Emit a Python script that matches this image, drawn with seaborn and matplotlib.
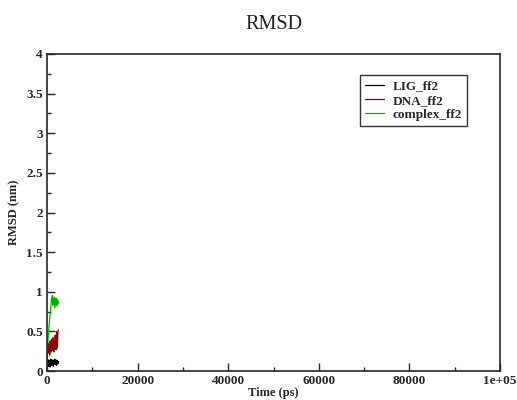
import numpy as np
import pandas as pd
import matplotlib
matplotlib.use("Agg")
import matplotlib.pyplot as plt
import seaborn as sns
from matplotlib.ticker import MultipleLocator

time_ps = [0, 100, 200, 300, 400, 500, 600, 700, 800, 900, 1000, 1100, 1200, 1300,
           1400, 1500, 1600, 1700, 1800, 1900, 2000, 2100, 2200, 2300, 2400, 2500]
lig = [0.0, 0.08, 0.12, 0.06, 0.14, 0.09, 0.13, 0.05, 0.11, 0.15, 0.07, 0.12, 0.10,
       0.14, 0.06, 0.13, 0.09, 0.15, 0.08, 0.12, 0.14, 0.07, 0.11, 0.13, 0.09, 0.12]
dna = [0.0, 0.28, 0.22, 0.35, 0.25, 0.30, 0.20, 0.38, 0.27, 0.24, 0.40, 0.30, 0.26,
       0.42, 0.32, 0.24, 0.36, 0.28, 0.45, 0.30, 0.27, 0.50, 0.33, 0.29, 0.48, 0.52]
cplx = [0.0, 0.30, 0.38, 0.45, 0.52, 0.60, 0.66, 0.72, 0.78, 0.85, 0.92, 0.88, 0.95,
        0.83, 0.90, 0.86, 0.93, 0.80, 0.89, 0.84, 0.92, 0.87, 0.82, 0.90, 0.85, 0.88]
series_names = ["LIG_ff2", "DNA_ff2", "complex_ff2"]
series_colors = ["#000000", "#8b0000", "#00b000"]
x_ticks = [0, 20000, 40000, 60000, 80000, 100000]
x_tick_labels = ["0", "20000", "40000", "60000", "80000", "1e+05"]
y_ticks = [0, 0.5, 1, 1.5, 2, 2.5, 3, 3.5, 4]
y_tick_labels = ["0", "0.5", "1", "1.5", "2", "2.5", "3", "3.5", "4"]

df = pd.DataFrame({"Time": time_ps * 3,
                   "RMSD": lig + dna + cplx,
                   "series": sum([[n] * len(time_ps) for n in series_names], [])})

sns.set_style("ticks")
plt.rcParams["font.family"] = ["Liberation Serif", "DejaVu Serif"]

fig = plt.figure(figsize=(5.17, 4.0), dpi=100)
ax = fig.add_axes([47 / 517, 29 / 400, 453 / 517, 317 / 400])
sns.lineplot(data=df, x="Time", y="RMSD", hue="series", palette=series_colors,
             hue_order=series_names, ax=ax, linewidth=0.9, estimator=None)

ax.set_xlim(0, 100000)
ax.set_ylim(0, 4)
ax.xaxis.set_minor_locator(MultipleLocator(10000))
ax.yaxis.set_minor_locator(MultipleLocator(0.25))
ax.set_xticks(x_ticks)
ax.set_xticklabels(x_tick_labels)
ax.set_yticks(y_ticks)
ax.set_yticklabels(y_tick_labels)
ax.tick_params(which="major", direction="in", length=6, width=1, labelsize=9.5,
               top=False, right=False, pad=3)
ax.tick_params(which="minor", direction="in", length=3, width=1)
for lbl in ax.get_xticklabels() + ax.get_yticklabels():
    lbl.set_fontweight("bold")
for s in ax.spines.values():
    s.set_linewidth(1.2)
    s.set_visible(True)
ax.set_xlabel("Time (ps)", fontsize=9, fontweight="bold", labelpad=0)
ax.set_ylabel("RMSD (nm)", fontsize=9, fontweight="bold", labelpad=4)
ax.set_title("RMSD", fontsize=14.5, pad=18, color="#222222")

leg = ax.legend(loc="upper right", bbox_to_anchor=(420 / 453, 296 / 317), frameon=True,
                fancybox=False, edgecolor="black", fontsize=9.5, handlelength=1.45,
                handletextpad=0.6, borderpad=0.4, labelspacing=0.15, borderaxespad=0)
leg.get_frame().set_linewidth(1.0)
for t in leg.get_texts():
    t.set_fontweight("bold")

fig.savefig("out.png", dpi=100)
